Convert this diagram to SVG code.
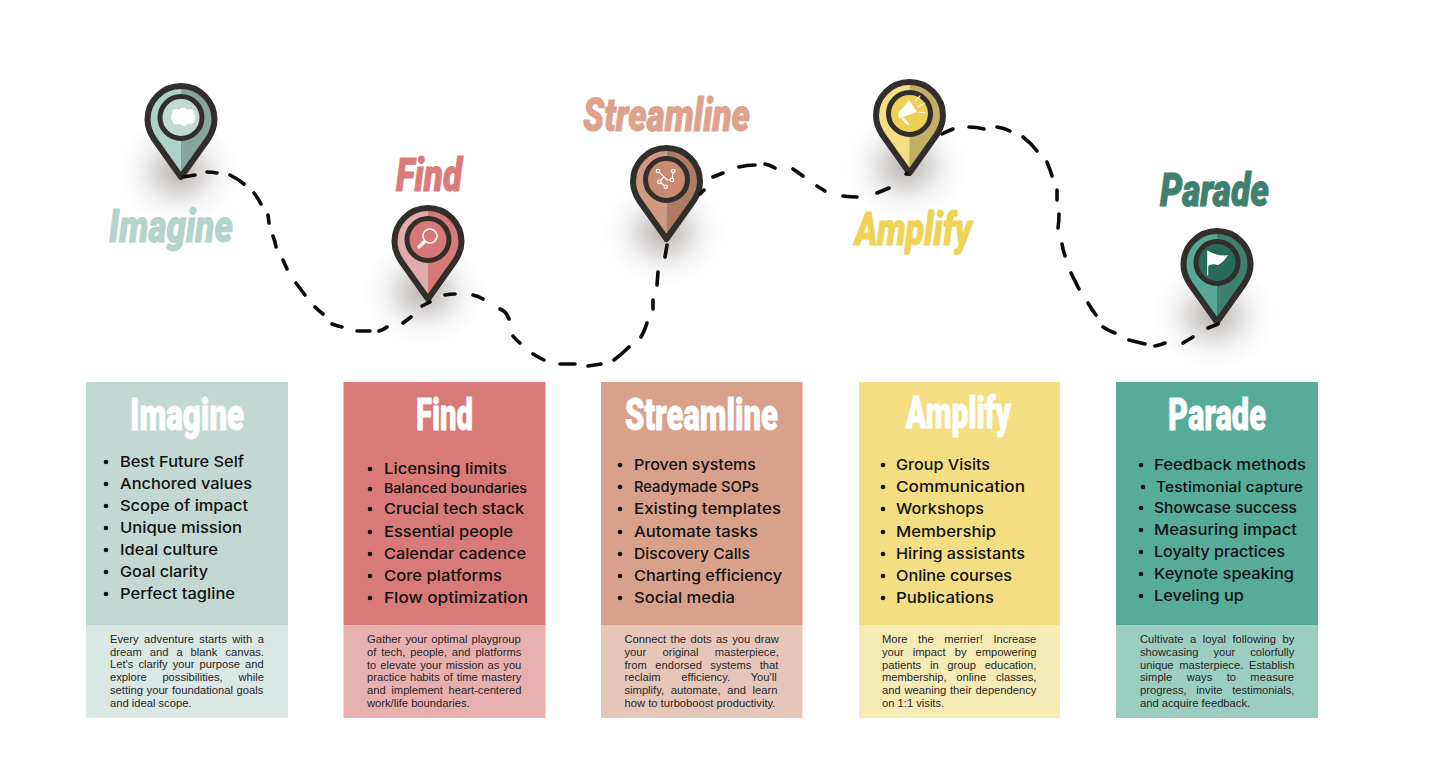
<svg xmlns="http://www.w3.org/2000/svg" xmlns:xlink="http://www.w3.org/1999/xlink" width="1440" height="780" viewBox="0 0 1440 780">
<style>
.script{font-family:Roboto,"Liberation Sans",sans-serif;font-weight:900;font-style:italic;font-size:47px;stroke-width:1;stroke-linejoin:round}
.head{font-family:Roboto,"Liberation Sans",sans-serif;font-weight:900;font-size:45px;fill:#fff;stroke:#fff;stroke-width:.8;stroke-linejoin:round}
.it{font-family:Inter,"Liberation Sans",sans-serif;font-weight:500;font-size:15px;fill:#111}
.p{font-family:"Liberation Sans",Arial,sans-serif;font-size:11.2px;fill:#262626}
.b{fill:#111}
.ring{stroke:#312e2b;stroke-width:5}
.o{fill:none;stroke:#312e2b;stroke-width:6;stroke-linejoin:round}
.w{stroke:#fff;fill:none;stroke-linecap:round}
.dash{fill:none;stroke:#0b0b0b;stroke-width:3.6;stroke-linecap:round;stroke-linejoin:round}
</style>
<defs>
<radialGradient id="sh"><stop offset="0" stop-color="#5e5650" stop-opacity=".45"/><stop offset=".35" stop-color="#6e6660" stop-opacity=".26"/><stop offset=".7" stop-color="#888" stop-opacity=".07"/><stop offset="1" stop-color="#888" stop-opacity="0"/></radialGradient>
<path id="pl" d="M0,-3L-27,-41C-31,-47 -33.5,-53 -33.5,-60.5A33.5,33.5 0 0 1 0,-94Z"/>
<path id="pr" d="M0,-3L27,-41C31,-47 33.5,-53 33.5,-60.5A33.5,33.5 0 0 0 0,-94Z"/>
<path id="po" d="M0,-3L-27,-41C-31,-47 -33.5,-53 -33.5,-60.5A33.5,33.5 0 0 1 33.5,-60.5C33.5,-53 31,-47 27,-41Z"/>
</defs>
<rect width="1440" height="780" fill="#fff"/>

<g id="shadows">
<ellipse cx="179" cy="172" rx="62" ry="54" fill="url(#sh)"/>
<ellipse cx="424" cy="292" rx="62" ry="54" fill="url(#sh)"/>
<ellipse cx="664" cy="232" rx="62" ry="54" fill="url(#sh)"/>
<ellipse cx="906" cy="166" rx="62" ry="54" fill="url(#sh)"/>
<ellipse cx="1214" cy="315" rx="62" ry="54" fill="url(#sh)"/>
</g>

<g id="node-imagine-pin">
<text class="script" x="109" y="242" fill="#b4d3cb" stroke="#b4d3cb" textLength="124" lengthAdjust="spacingAndGlyphs">Imagine</text>
<g transform="translate(181,180)">
<use xlink:href="#pl" href="#pl" fill="#b0d0ca"/><use xlink:href="#pr" href="#pr" fill="#87a59e"/><use xlink:href="#po" href="#po" class="o"/>
<circle class="ring" cy="-62.5" r="21" fill="#c2d9d3"/>
</g>
<g fill="#fff"><ellipse cx="183" cy="117" rx="12" ry="7.5"/><circle cx="176" cy="113" r="4"/><circle cx="183" cy="111.500" r="4"/><circle cx="190" cy="113" r="4"/><circle cx="176" cy="121" r="3.5"/><circle cx="184" cy="122.500" r="3.5"/><circle cx="191" cy="120" r="3.5"/></g>
</g>

<g id="node-find-pin">
<text class="script" x="396" y="191" fill="#da7b79" stroke="#da7b79" textLength="66" lengthAdjust="spacingAndGlyphs">Find</text>
<g transform="translate(428,302)">
<use xlink:href="#pl" href="#pl" fill="#e0acab"/><use xlink:href="#pr" href="#pr" fill="#d57a78"/><use xlink:href="#po" href="#po" class="o"/>
<circle class="ring" cy="-62.5" r="21" fill="#d87876"/>
<circle class="w" cx="2" cy="-66" r="7" stroke-width="1.6"/>
<path class="w" d="M-9,-55L-4,-60" stroke-width="3.4"/>
</g>
</g>

<g id="node-streamline-pin">
<text class="script" x="583" y="131" fill="#dea28c" stroke="#dea28c" textLength="167" lengthAdjust="spacingAndGlyphs">Streamline</text>
<g transform="translate(666.5,242)">
<use xlink:href="#pl" href="#pl" fill="#d09a82"/><use xlink:href="#pr" href="#pr" fill="#ae7c65"/><use xlink:href="#po" href="#po" class="o"/>
<circle class="ring" cy="-62.5" r="21" fill="#ca8a70"/>
</g>
<path class="w" d="M658,171L667,180L672,180L673.3,171M659.3,181.7L664,177M659.3,181.7L665.7,186.7" stroke-width="1.1"/>
<g class="w" stroke-width="1.1" style="fill:#ca8a70"><circle cx="658" cy="171" r="1.7"/><circle cx="673.3" cy="171" r="1.7"/><circle cx="672" cy="180" r="1.7"/><circle cx="659.3" cy="181.7" r="1.7"/><circle cx="665.7" cy="186.7" r="1.7"/></g>
</g>

<g id="node-amplify-pin">
<text class="script" x="855" y="245" fill="#eed357" stroke="#eed357" textLength="117" lengthAdjust="spacingAndGlyphs">Amplify</text>
<g transform="translate(909.5,176)">
<use xlink:href="#pl" href="#pl" fill="#f6de85"/><use xlink:href="#pr" href="#pr" fill="#c2ae65"/><use xlink:href="#po" href="#po" class="o"/>
<circle class="ring" cy="-62.5" r="21" fill="#eed054"/>
</g>
<path fill="#fff" d="M909,100L917,112L900,118Q897,116 899,112Q904,107 909,100Z"/>
<path class="w" d="M903,119L908,124" stroke-width="2.6"/>
<path class="w" d="M915,101L920,96M918,107L925,103M919,112L925,113" stroke-width="1.1"/>
</g>

<g id="node-parade-pin">
<text class="script" x="1160" y="206" fill="#3f806f" stroke="#3f806f" textLength="109" lengthAdjust="spacingAndGlyphs">Parade</text>
<g transform="translate(1217,325)">
<use xlink:href="#pl" href="#pl" fill="#56a994"/><use xlink:href="#pr" href="#pr" fill="#3f7f6f"/><use xlink:href="#po" href="#po" class="o"/>
<circle class="ring" cy="-62.5" r="21" fill="#2a6a5a"/>
</g>
<path fill="#fff" d="M1208,251Q1220,257 1228,255Q1224,262 1218,265Q1212,263 1208,266Z"/>
<path class="w" d="M1207.7,251V275" stroke-width="1"/>
</g>

<g id="connectors">
<path class="dash" d="M183,177Q189,176 195,175M207,172Q212,172 217,173M230,175Q238,179 244,184M254,193Q258,198 261,204M268,215L269,223M273,236Q275,241 276,247M283,260L287,269M296,283L305,295M315,307Q319,311 323,314M332,324Q337,326 342,327M357,331L370,331M379,331Q383,330 387,327M403,323L411,317M422,306Q426,304 430,302M445,295Q450,294 455,294M473,295Q478,296 483,299M500,309Q506,311 509,319M513,336Q516,340 520,343M533,354Q538,357 544,360M560,364L575,364M588,366Q595,365 601,364M614,360Q622,354 629,347M641,337Q645,330 647,323M653,309L653,300M657,285L658,272M665,257L667,245"/>
<path class="dash" d="M700,194L704,190M713,177Q718,175 723,173M739,167Q747,165 755,165M765,164Q770,165 775,168M793,169L803,176M817,186L825,191M843,196Q850,197 857,197M877,193L889,188M906,174L908,174M942,134Q948,131 953,129M969,127Q977,127 984,129M997,127Q1004,128 1010,131M1023,137Q1031,143 1037,151M1047,162Q1050,169 1052,176M1057,190Q1057,195 1057,200M1059,214Q1059,221 1058,228M1062,244Q1063,250 1065,256M1071,273L1079,289M1088,303Q1092,310 1096,315M1103,327Q1109,331 1115,333M1129,340Q1137,342 1145,344M1155,346Q1160,345 1165,343M1183,343L1193,337M1208,328L1218,324"/>
</g>

<g id="node-imagine-card">
<rect x="86" y="382" width="202" height="243" fill="#c2d9d3"/>
<rect x="86" y="625" width="202" height="93" fill="#dae7e4"/>
<text class="head" x="130" y="430" textLength="114" lengthAdjust="spacingAndGlyphs">Imagine</text>
<g class="b"><circle cx="106" cy="462" r="2.3"/><circle cx="106" cy="484" r="2.3"/><circle cx="106" cy="506" r="2.3"/><circle cx="106" cy="528" r="2.3"/><circle cx="106" cy="550" r="2.3"/><circle cx="106" cy="572" r="2.3"/><circle cx="106" cy="594" r="2.3"/></g>
<text class="it" x="120" y="467" textLength="124" lengthAdjust="spacingAndGlyphs">Best Future Self</text>
<text class="it" x="120" y="489" textLength="132" lengthAdjust="spacingAndGlyphs">Anchored values</text>
<text class="it" x="120" y="511" textLength="128" lengthAdjust="spacingAndGlyphs">Scope of impact</text>
<text class="it" x="120" y="533" textLength="122" lengthAdjust="spacingAndGlyphs">Unique mission</text>
<text class="it" x="120" y="555" textLength="98" lengthAdjust="spacingAndGlyphs">Ideal culture</text>
<text class="it" x="120" y="577" textLength="88" lengthAdjust="spacingAndGlyphs">Goal clarity</text>
<text class="it" x="120" y="599" textLength="115" lengthAdjust="spacingAndGlyphs">Perfect tagline</text>
<text class="p" x="110" y="643" word-spacing="2.4">Every adventure starts with a</text>
<text class="p" x="110" y="656" word-spacing="4.9">dream and a blank canvas.</text>
<text class="p" x="110" y="668" word-spacing="2">Let's clarify your purpose and</text>
<text class="p" x="110" y="681" word-spacing="12.6">explore possibilities, while</text>
<text class="p" x="110" y="694" word-spacing=".5">setting your foundational goals</text>
<text class="p" x="110" y="707">and ideal scope.</text>
</g>

<g id="node-find-card">
<rect x="343.5" y="382" width="202" height="243" fill="#d87a78"/>
<rect x="343.5" y="625" width="202" height="93" fill="#e7b0af"/>
<text class="head" x="416" y="430" textLength="57" lengthAdjust="spacingAndGlyphs">Find</text>
<g class="b"><circle cx="370" cy="469" r="2.3"/><circle cx="370" cy="489" r="2.3"/><circle cx="370" cy="509" r="2.3"/><circle cx="370" cy="532" r="2.3"/><circle cx="370" cy="554" r="2.3"/><circle cx="370" cy="576" r="2.3"/><circle cx="370" cy="598" r="2.3"/></g>
<text class="it" x="384" y="474" textLength="123" lengthAdjust="spacingAndGlyphs">Licensing limits</text>
<text class="it" x="384" y="493" textLength="143" lengthAdjust="spacingAndGlyphs" style="font-size:13px">Balanced boundaries</text>
<text class="it" x="384" y="514" textLength="140" lengthAdjust="spacingAndGlyphs">Crucial tech stack</text>
<text class="it" x="384" y="537" textLength="129" lengthAdjust="spacingAndGlyphs">Essential people</text>
<text class="it" x="384" y="559" textLength="142" lengthAdjust="spacingAndGlyphs">Calendar cadence</text>
<text class="it" x="384" y="581" textLength="118" lengthAdjust="spacingAndGlyphs">Core platforms</text>
<text class="it" x="384" y="603" textLength="144" lengthAdjust="spacingAndGlyphs">Flow optimization</text>
<text class="p" x="367" y="643" word-spacing="1.07">Gather your optimal playgroup</text>
<text class="p" x="367" y="656" word-spacing="1.75">of tech, people, and platforms</text>
<text class="p" x="367" y="669" word-spacing=".77">to elevate your mission as you</text>
<text class="p" x="367" y="681" word-spacing=".65">practice habits of time mastery</text>
<text class="p" x="367" y="694" word-spacing="2.55">and implement heart-centered</text>
<text class="p" x="367" y="707">work/life boundaries.</text>
</g>

<g id="node-streamline-card">
<rect x="601" y="382" width="201.500" height="243" fill="#d9a18b"/>
<rect x="601" y="625" width="201.500" height="93" fill="#e7c6ba"/>
<text class="head" x="625" y="430" textLength="153" lengthAdjust="spacingAndGlyphs">Streamline</text>
<g class="b"><circle cx="620" cy="465" r="2.3"/><circle cx="620" cy="487" r="2.3"/><circle cx="620" cy="509" r="2.3"/><circle cx="620" cy="532" r="2.3"/><circle cx="620" cy="554" r="2.3"/><circle cx="620" cy="576" r="2.3"/><circle cx="620" cy="598" r="2.3"/></g>
<text class="it" x="634" y="470" textLength="122" lengthAdjust="spacingAndGlyphs">Proven systems</text>
<text class="it" x="634" y="492" textLength="125" lengthAdjust="spacingAndGlyphs">Readymade SOPs</text>
<text class="it" x="634" y="514" textLength="147" lengthAdjust="spacingAndGlyphs">Existing templates</text>
<text class="it" x="634" y="537" textLength="124" lengthAdjust="spacingAndGlyphs">Automate tasks</text>
<text class="it" x="634" y="559" textLength="116" lengthAdjust="spacingAndGlyphs">Discovery Calls</text>
<text class="it" x="634" y="581" textLength="148" lengthAdjust="spacingAndGlyphs">Charting efficiency</text>
<text class="it" x="634" y="603" textLength="101" lengthAdjust="spacingAndGlyphs">Social media</text>
<text class="p" x="624.500" y="643" word-spacing="1.26">Connect the dots as you draw</text>
<text class="p" x="624.500" y="656" word-spacing="13.1">your original masterpiece,</text>
<text class="p" x="624.500" y="669" word-spacing="5.27">from endorsed systems that</text>
<text class="p" x="624.500" y="681" word-spacing="17.7">reclaim efficiency. You'll</text>
<text class="p" x="624.500" y="694" word-spacing="3.6">simplify, automate, and learn</text>
<text class="p" x="624.500" y="707">how to turboboost productivity.</text>
</g>

<g id="node-amplify-card">
<rect x="859" y="382" width="201" height="243" fill="#f4de83"/>
<rect x="859" y="625" width="201" height="93" fill="#f7ebb5"/>
<text class="head" x="906" y="428" textLength="105" lengthAdjust="spacingAndGlyphs">Amplify</text>
<g class="b"><circle cx="883" cy="465" r="2.3"/><circle cx="883" cy="487" r="2.3"/><circle cx="883" cy="509" r="2.3"/><circle cx="883" cy="532" r="2.3"/><circle cx="883" cy="554" r="2.3"/><circle cx="883" cy="576" r="2.3"/><circle cx="883" cy="598" r="2.3"/></g>
<text class="it" x="896" y="470" textLength="94" lengthAdjust="spacingAndGlyphs">Group Visits</text>
<text class="it" x="896" y="492" textLength="129" lengthAdjust="spacingAndGlyphs">Communication</text>
<text class="it" x="896" y="514" textLength="88" lengthAdjust="spacingAndGlyphs">Workshops</text>
<text class="it" x="896" y="537" textLength="100" lengthAdjust="spacingAndGlyphs">Membership</text>
<text class="it" x="896" y="559" textLength="129" lengthAdjust="spacingAndGlyphs">Hiring assistants</text>
<text class="it" x="896" y="581" textLength="116" lengthAdjust="spacingAndGlyphs">Online courses</text>
<text class="it" x="896" y="603" textLength="98" lengthAdjust="spacingAndGlyphs">Publications</text>
<text class="p" x="882" y="643" word-spacing="7.5">More the merrier! Increase</text>
<text class="p" x="882" y="656" word-spacing="5.87">your impact by empowering</text>
<text class="p" x="882" y="669" word-spacing="5.6">patients in group education,</text>
<text class="p" x="882" y="681" word-spacing="6.6">membership, online classes,</text>
<text class="p" x="882" y="694" word-spacing=".67">and weaning their dependency</text>
<text class="p" x="882" y="707">on 1:1 visits.</text>
</g>

<g id="node-parade-card">
<rect x="1116" y="382" width="202" height="243" fill="#57ac98"/>
<rect x="1116" y="625" width="202" height="93" fill="#9bcdc0"/>
<text class="head" x="1168" y="430" textLength="98" lengthAdjust="spacingAndGlyphs">Parade</text>
<g class="b"><circle cx="1141" cy="465" r="2.3"/><circle cx="1143" cy="487" r="2.3"/><circle cx="1141" cy="508" r="2.3"/><circle cx="1141" cy="530" r="2.3"/><circle cx="1141" cy="552" r="2.3"/><circle cx="1141" cy="574" r="2.3"/><circle cx="1141" cy="596" r="2.3"/></g>
<text class="it" x="1154" y="470" textLength="152" lengthAdjust="spacingAndGlyphs">Feedback methods</text>
<text class="it" x="1156" y="492" textLength="147" lengthAdjust="spacingAndGlyphs" style="font-size:14px">Testimonial capture</text>
<text class="it" x="1154" y="513" textLength="143" lengthAdjust="spacingAndGlyphs">Showcase success</text>
<text class="it" x="1154" y="535" textLength="143" lengthAdjust="spacingAndGlyphs">Measuring impact</text>
<text class="it" x="1154" y="557" textLength="131" lengthAdjust="spacingAndGlyphs">Loyalty practices</text>
<text class="it" x="1154" y="579" textLength="140" lengthAdjust="spacingAndGlyphs">Keynote speaking</text>
<text class="it" x="1154" y="601" textLength="90" lengthAdjust="spacingAndGlyphs">Leveling up</text>
<text class="p" x="1140" y="643" word-spacing="3.45">Cultivate a loyal following by</text>
<text class="p" x="1140" y="656" word-spacing="11.9">showcasing your colorfully</text>
<text class="p" x="1140" y="669" word-spacing="2.55">unique masterpiece. Establish</text>
<text class="p" x="1140" y="681" word-spacing="11.3">simple ways to measure</text>
<text class="p" x="1140" y="694" word-spacing="6.6">progress, invite testimonials,</text>
<text class="p" x="1140" y="707">and acquire feedback.</text>
</g>
</svg>
